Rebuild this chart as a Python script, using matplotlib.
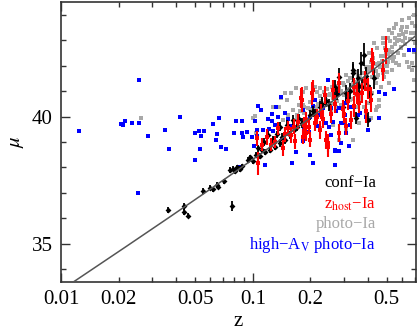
import matplotlib
matplotlib.use("Agg")
import matplotlib.pyplot as plt
import numpy as np
from matplotlib.ticker import FixedLocator, NullFormatter

plt.rcParams["font.family"] = ["Liberation Serif", "DejaVu Serif"]
plt.rcParams["mathtext.fontset"] = "stix"

## Data
# conf-Ia (black, with errors)
conf_z = [0.036, 0.044, 0.044, 0.0458, 0.0548, 0.078, 0.060, 0.062, 0.065, 0.066,
          0.071, 0.076, 0.079, 0.081, 0.083, 0.086, 0.088, 0.095, 0.097, 0.100,
          0.104, 0.106, 0.109, 0.112, 0.114, 0.116, 0.120, 0.123, 0.127, 0.130,
          0.134, 0.138, 0.138, 0.142, 0.147, 0.150, 0.156, 0.162, 0.165, 0.170,
          0.175, 0.180, 0.186, 0.190, 0.198, 0.205, 0.212, 0.223, 0.230, 0.240,
          0.250, 0.267, 0.275, 0.283, 0.295, 0.307, 0.320, 0.333, 0.335, 0.346,
          0.353, 0.360, 0.367, 0.372, 0.382, 0.390, 0.400, 0.410, 0.430]
conf_mu = [36.33, 36.47, 36.25, 36.10, 37.09, 36.47, 37.20, 37.15, 37.30, 37.25,
           37.45, 37.90, 37.95, 37.85, 38.00, 37.95, 38.05, 38.30, 38.40, 38.25,
           38.50, 38.75, 38.45, 38.70, 39.00, 38.60, 39.28, 38.70, 39.10, 38.82,
           39.30, 38.96, 39.60, 39.20, 39.09, 39.67, 39.28, 39.87, 39.48, 39.60,
           39.90, 39.74, 39.80, 39.87, 40.07, 40.20, 40.10, 40.39, 40.50, 40.60,
           40.45, 41.15, 40.90, 41.57, 40.39, 40.92, 41.00, 41.70, 41.83, 39.94,
           41.50, 41.20, 42.10, 41.18, 42.42, 41.60, 39.87, 40.90, 41.50]
conf_err = [0.12, 0.15, 0.10, 0.10, 0.12, 0.20, 0.10, 0.10, 0.12, 0.10,
            0.10, 0.10, 0.10, 0.12, 0.10, 0.12, 0.10, 0.12, 0.10, 0.12,
            0.12, 0.15, 0.12, 0.12, 0.15, 0.12, 0.15, 0.12, 0.15, 0.15,
            0.15, 0.15, 0.18, 0.15, 0.15, 0.18, 0.15, 0.20, 0.18, 0.18,
            0.20, 0.20, 0.18, 0.20, 0.20, 0.22, 0.20, 0.22, 0.25, 0.22,
            0.25, 0.30, 0.25, 0.35, 0.25, 0.30, 0.30, 0.35, 0.30, 0.25,
            0.35, 0.30, 0.45, 0.30, 0.45, 0.35, 0.30, 0.35, 0.40]

# z_host-Ia (red, with errors)
host_z = [0.105, 0.119, 0.136, 0.106, 0.153, 0.159, 0.167, 0.144, 0.186, 0.190,
          0.178, 0.180, 0.206, 0.237, 0.261, 0.283, 0.339, 0.388, 0.190, 0.210,
          0.223, 0.242, 0.247, 0.283, 0.307, 0.326, 0.182, 0.198, 0.339, 0.360,
          0.372, 0.495, 0.426, 0.475, 0.414, 0.400, 0.385, 0.420, 0.204, 0.247,
          0.130, 0.148, 0.172, 0.215, 0.228, 0.255, 0.270, 0.295, 0.315, 0.350,
          0.165, 0.125, 0.112, 0.196, 0.232, 0.300]
host_mu = [39.15, 39.20, 39.54, 38.17, 39.54, 39.28, 39.02, 38.76, 39.67, 39.35,
           40.72, 40.66, 41.05, 40.85, 41.05, 41.31, 41.18, 40.20, 39.87, 39.74,
           39.48, 39.09, 38.82, 39.35, 39.61, 39.87, 39.21, 39.09, 40.40, 40.53,
           40.92, 42.62, 42.10, 41.83, 40.66, 41.10, 41.40, 42.23, 40.92, 38.96,
           39.00, 39.30, 39.80, 40.00, 40.20, 40.10, 40.50, 40.30, 40.60, 40.90,
           39.60, 38.90, 38.90, 39.60, 39.90, 40.10]
host_err = [0.30, 0.30, 0.25, 0.45, 0.30, 0.30, 0.30, 0.30, 0.30, 0.30,
            0.40, 0.50, 0.40, 0.35, 0.40, 0.40, 0.35, 0.45, 0.30, 0.30,
            0.35, 0.35, 0.40, 0.35, 0.35, 0.35, 0.30, 0.30, 0.40, 0.40,
            0.40, 0.55, 0.45, 0.45, 0.50, 0.40, 0.40, 0.45, 0.45, 0.35,
            0.25, 0.30, 0.30, 0.30, 0.30, 0.35, 0.35, 0.35, 0.35, 0.40,
            0.30, 0.25, 0.25, 0.30, 0.35, 0.35]

# photo-Ia (grey)
photo_z = [0.026, 0.100, 0.103, 0.104, 0.127, 0.137, 0.141, 0.144, 0.147, 0.150,
           0.153, 0.159, 0.162, 0.168, 0.170, 0.176, 0.182, 0.182, 0.186, 0.194,
           0.198, 0.182, 0.186, 0.190, 0.198, 0.210, 0.214, 0.223, 0.223, 0.223,
           0.242, 0.251, 0.261, 0.261, 0.267, 0.272, 0.283, 0.283, 0.295, 0.307,
           0.307, 0.320, 0.320, 0.333, 0.333, 0.346, 0.346, 0.353, 0.360, 0.367,
           0.372, 0.382, 0.382, 0.388, 0.388, 0.406, 0.406, 0.406, 0.414, 0.414,
           0.414, 0.420, 0.431, 0.440, 0.440, 0.440, 0.447, 0.447, 0.457, 0.467,
           0.467, 0.475, 0.486, 0.495, 0.505, 0.505, 0.516, 0.516, 0.530, 0.530,
           0.548, 0.555, 0.570, 0.580, 0.580, 0.600, 0.617, 0.630, 0.655, 0.655,
           0.680, 0.680, 0.695, 0.700, 0.690, 0.600, 0.665, 0.530, 0.580, 0.516,
           0.475, 0.560, 0.640, 0.680, 0.695, 0.475, 0.440, 0.406, 0.457, 0.235,
           0.245, 0.255, 0.265, 0.290, 0.300, 0.315, 0.330, 0.340, 0.355, 0.370,
           0.395, 0.425, 0.455, 0.490, 0.520, 0.550, 0.590, 0.620, 0.650, 0.560,
           0.610, 0.500, 0.460, 0.420, 0.365, 0.310, 0.275, 0.230, 0.205, 0.175,
           0.540, 0.590, 0.640, 0.700, 0.520, 0.480, 0.380, 0.345, 0.260, 0.215,
           0.200, 0.218, 0.228, 0.238, 0.252, 0.268, 0.278, 0.288, 0.298, 0.312,
           0.325, 0.338, 0.350, 0.362, 0.378, 0.392, 0.410, 0.435, 0.450, 0.470,
           0.490, 0.510, 0.535, 0.565, 0.595, 0.625, 0.660, 0.690, 0.610, 0.545,
           0.500, 0.445, 0.400, 0.360, 0.325, 0.290, 0.255, 0.225, 0.195, 0.170]
photo_mu = [39.95, 39.94, 40.04, 39.37, 40.37, 40.37, 40.72, 39.87, 40.94, 40.66,
            40.07, 40.92, 40.26, 41.11, 40.07, 40.20, 39.74, 40.46, 40.13, 40.33,
            40.00, 40.98, 40.39, 41.11, 40.59, 41.18, 40.39, 40.79, 41.11, 39.54,
            40.66, 40.85, 40.72, 39.67, 40.98, 40.39, 41.11, 39.09, 41.31, 41.64,
            39.48, 41.50, 40.66, 41.31, 39.09, 41.05, 40.39, 41.44, 39.74, 40.79,
            41.24, 41.70, 40.39, 41.96, 40.13, 42.49, 40.53, 41.83, 42.16, 39.94,
            41.83, 40.92, 42.88, 41.77, 41.31, 40.26, 42.69, 40.39, 40.66, 42.36,
            41.18, 42.88, 41.57, 42.55, 43.08, 42.16, 43.40, 41.31, 42.75, 41.83,
            43.47, 43.08, 42.49, 43.20, 42.03, 43.53, 42.42, 43.34, 43.87, 41.96,
            43.67, 42.10, 43.27, 42.88, 44.00, 43.80, 43.27, 43.27, 43.00, 42.60,
            42.36, 42.10, 42.16, 41.83, 41.44, 41.70, 41.30, 40.92, 40.40, 40.95,
            41.10, 40.55, 41.30, 40.95, 41.25, 41.40, 41.00, 41.75, 41.60, 42.05,
            41.90, 42.30, 42.10, 42.70, 42.30, 42.85, 42.70, 43.10, 42.60, 43.65,
            42.95, 42.00, 41.95, 41.55, 40.70, 40.80, 40.60, 40.30, 40.65, 40.45,
            42.20, 43.40, 43.50, 43.55, 42.95, 43.10, 41.45, 40.85, 41.15, 40.95,
            40.30, 40.50, 40.60, 40.85, 40.90, 40.70, 41.20, 41.00, 40.85, 41.10,
            41.20, 41.35, 41.15, 41.55, 41.40, 41.75, 41.95, 42.05, 41.65, 42.20,
            42.00, 42.45, 42.55, 42.95, 42.75, 42.85, 43.05, 42.55, 43.25, 42.35,
            41.75, 41.55, 41.20, 40.95, 40.70, 40.45, 40.20, 40.05, 39.90, 39.95]

# high-Av photo-Ia (blue)
hiav_z = [0.0124, 0.0205, 0.0211, 0.0216, 0.0235, 0.0253, 0.0256, 0.0254, 0.0283, 0.0349,
          0.0366, 0.0418, 0.0500, 0.0526, 0.0535, 0.0533, 0.0498, 0.0555, 0.0617, 0.0666,
          0.0649, 0.0641, 0.0682, 0.0721, 0.0822, 0.0881, 0.0799, 0.0881, 0.0893, 0.0930,
          0.0986, 0.1015, 0.1066, 0.1100, 0.1046, 0.1133, 0.1025, 0.1054, 0.1197, 0.1254,
          0.1263, 0.1217, 0.1318, 0.1355, 0.1411, 0.1276, 0.1302, 0.1467, 0.1525, 0.1585,
          0.1683, 0.1600, 0.1155, 0.0856, 0.1428, 0.247, 0.210, 0.206, 0.182, 0.232,
          0.257, 0.283, 0.307, 0.326, 0.272, 0.223, 0.198, 0.301, 0.353, 0.261,
          0.242, 0.290, 0.320, 0.218, 0.186, 0.307, 0.257, 0.290, 0.316, 0.283,
          0.267, 0.200, 0.182, 0.400, 0.406, 0.650, 0.695, 0.454, 0.490, 0.548,
          0.339, 0.390, 0.458, 0.280, 0.310, 0.362, 0.270, 0.206, 0.267, 0.196,
          0.251, 0.295]
hiav_mu = [39.43, 39.71, 39.66, 39.83, 39.76, 37.00, 41.44, 39.76, 39.25, 39.49,
           38.73, 39.98, 39.35, 39.44, 39.23, 38.73, 38.30, 39.44, 39.71, 39.94,
           39.32, 39.06, 38.82, 38.72, 39.84, 39.84, 39.37, 39.37, 39.19, 39.39,
           39.19, 38.86, 40.42, 40.24, 39.24, 39.48, 39.83, 39.49, 39.90, 40.09,
           39.83, 39.50, 40.39, 39.98, 40.75, 39.45, 39.66, 40.13, 39.90, 39.63,
           38.59, 38.17, 38.09, 38.01, 39.11, 41.44, 40.66, 40.42, 40.24, 40.33,
           40.33, 40.33, 40.53, 40.39, 40.20, 40.07, 40.00, 40.07, 40.07, 39.80,
           39.74, 39.74, 39.67, 39.61, 39.48, 39.35, 39.28, 38.98, 38.85, 38.63,
           38.69, 38.50, 39.02, 39.48, 39.87, 42.62, 42.62, 40.98, 40.88, 41.10,
           40.39, 40.00, 39.94, 40.92, 40.68, 40.13, 38.66, 38.17, 38.10, 39.41,
           39.60, 39.74]

# fiducial flat LCDM curve
H0 = 70.0
Om = 0.3
zlim = (0.01, 0.71)
mulim = (33.5, 44.5)

xtick_vals = [0.01, 0.02, 0.05, 0.1, 0.2, 0.5]
xtick_labels = ["0.01", "0.02", "0.05", "0.1", "0.2", "0.5"]
xtick_long = [0.01, 0.1]

legend_labels = ["conf\u2212Ia", "z$_{\\rm host}$\u2212Ia", "photo\u2212Ia",
                 "high\u2212A$_{\\rm V}$ photo\u2212Ia"]
legend_colors = ["black", "#ff0000", "#a8a8a8", "#0000ff"]


def distance_modulus(z):
    zz = np.linspace(0, z.max(), 4000)
    ez = 1.0 / np.sqrt(Om * (1 + zz) ** 3 + (1 - Om))
    dc = np.concatenate([[0], np.cumsum(0.5 * (ez[1:] + ez[:-1]) * np.diff(zz))])
    dl = (1 + z) * 299792.458 / H0 * np.interp(z, zz, dc)
    return 5 * np.log10(dl * 1e6 / 10)


fig = plt.figure(figsize=(4.19, 3.32), dpi=100)
ax = fig.add_axes([0.1456, 0.1506, 0.8472, 0.8434])

ax.plot(photo_z, photo_mu, "s", color="#a8a8a8", ms=2.4, mew=0, zorder=2)
ax.plot(hiav_z, hiav_mu, "s", color="#0000ff", ms=2.4, mew=0, zorder=3)
ax.errorbar(conf_z, conf_mu, yerr=conf_err, fmt="D", color="black", ms=3.0,
            mew=0, elinewidth=1.3, capsize=0, zorder=4)
ax.errorbar(host_z, host_mu, yerr=host_err, fmt="s", color="#ff0000", ms=2.2,
            mew=0, elinewidth=1.5, capsize=0, zorder=5)

zline = np.logspace(np.log10(0.011), np.log10(0.72), 300)
ax.plot(zline, distance_modulus(zline), color="#555555", lw=1.1, zorder=6)

ax.set_xscale("log")
ax.set_xlim(*zlim)
ax.set_ylim(*mulim)

ax.set_xticks(xtick_vals)
ax.set_xticklabels(xtick_labels)
ax.xaxis.set_minor_locator(FixedLocator([0.03, 0.04, 0.06, 0.07, 0.08, 0.09,
                                         0.3, 0.4, 0.6, 0.7]))
ax.xaxis.set_minor_formatter(NullFormatter())
ax.set_yticks([35, 40])
ax.set_yticks(np.arange(34, 45), minor=True)

ax.tick_params(which="both", direction="in", top=True, right=True,
               labelsize=15, color="#333333", pad=6)
ax.tick_params(which="major", length=6.5, width=1.0)
ax.tick_params(which="minor", length=3.5, width=1.0)
for val, tk in zip(xtick_vals, ax.xaxis.get_major_ticks()):
    if val not in xtick_long:
        tk.tick1line.set_markersize(3.5)
        tk.tick2line.set_markersize(3.5)
for s in ax.spines.values():
    s.set_color("#333333")
    s.set_linewidth(1.2)

ax.set_xlabel("z", fontsize=15, labelpad=2)
ax.set_ylabel("$\\mu$", fontsize=15, labelpad=4)

for i, (lab, col) in enumerate(zip(legend_labels, legend_colors)):
    ax.text(0.887, 0.352 - 0.073 * i, lab, color=col, fontsize=12,
            ha="right", va="center", transform=ax.transAxes)

fig.savefig("out.png", dpi=100)
